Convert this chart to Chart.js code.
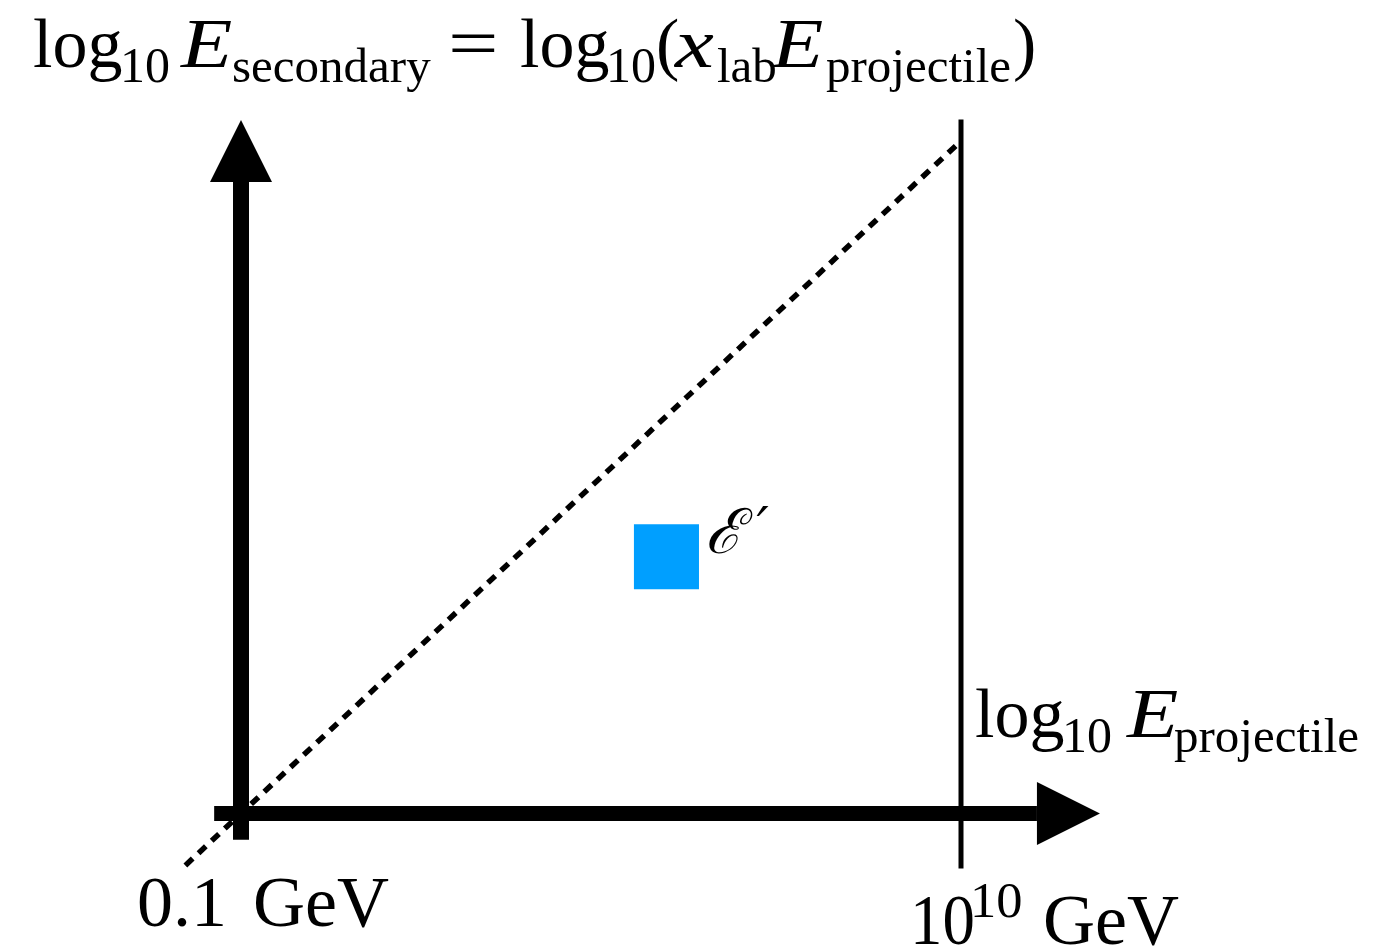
<!DOCTYPE html>
<html>
<head>
<meta charset="utf-8">
<title>Secondary vs projectile energy</title>
<script src="https://cdn.jsdelivr.net/npm/chart.js@4/dist/chart.umd.min.js"></script>
<style>
  html, body { margin: 0; padding: 0; background: #ffffff; }
  #wrap { width: 1397px; height: 946px; position: relative; }
</style>
</head>
<body>
<div id="wrap"><canvas id="c" width="1397" height="946"></canvas></div>
<script>
// Energies are in log10(E / GeV)
const energyBounds = [-1, 10];            // 0.1 GeV ... 10^10 GeV
const tickMantissa = ['0.1', '10'];
const tickExponent = ['', '10'];
const tickUnit = 'GeV';

// x_lab = 1 boundary: E_secondary = E_projectile
const diagonalX = [-1.85, 10];
const diagonalY = [-1.85, 10];

// upper limit of the projectile energy grid
const cutoffX = [10, 10];
const cutoffY = [-1.9, 10.35];

// axis shafts (arrowheads are added beyond the last point)
const xAxisX = [-1.41, 11.16];
const xAxisY = [-1, -1];
const yAxisX = [-1, -1];
const yAxisY = [-1.43, 9.33];

// one cell of the secondary-energy grid
const cellX = [5.5];
const cellY = [3.2];
const cellLabel = 'ℰ';
const cellPrime = '′';

const SERIF = '"Liberation Serif", "DejaVu Serif", serif';

function pts(xs, ys) { return xs.map((x, i) => ({ x: x, y: ys[i] })); }

// pieces: [text, size, italic, x offset, baseline offset, horizontal stretch]
function drawPieces(ctx, x0, y0, pieces) {
  ctx.textBaseline = 'alphabetic';
  ctx.textAlign = 'left';
  for (const [t, s, it, dx, dy, sx] of pieces) {
    ctx.font = (it ? 'italic ' : '') + s + 'px ' + SERIF;
    ctx.save();
    ctx.translate(x0 + dx, y0 + dy);
    ctx.scale(sx || 1, 1);
    ctx.fillText(t, 0, 0);
    ctx.restore();
  }
}

const overlay = {
  id: 'overlay',
  afterDatasetsDraw(chart) {
    const ctx = chart.ctx;
    const xs = chart.scales.x, ys = chart.scales.y;
    ctx.save();
    ctx.fillStyle = '#000';

    // arrowhead on the x axis
    const xb = xs.getPixelForValue(xAxisX[1]);
    const xy = ys.getPixelForValue(xAxisY[1]);
    ctx.beginPath();
    ctx.moveTo(xb, xy - 31.5);
    ctx.lineTo(xb + 63, xy);
    ctx.lineTo(xb, xy + 31.5);
    ctx.closePath();
    ctx.fill();

    // arrowhead on the y axis
    const yx = xs.getPixelForValue(yAxisX[1]);
    const yb = ys.getPixelForValue(yAxisY[1]);
    ctx.beginPath();
    ctx.moveTo(yx - 31, yb);
    ctx.lineTo(yx, yb - 62);
    ctx.lineTo(yx + 31, yb);
    ctx.closePath();
    ctx.fill();

    // vertical axis title
    drawPieces(ctx, 33, 67, [
      ['log', 70, false, 0, 0],
      ['10', 50, false, 87, 15],
      ['E', 70, true, 148, 0, 1.2],
      ['secondary', 49, false, 199, 15],
      ['=', 70, false, 415, 0, 1.28],
      ['log', 70, false, 487, 0],
      ['10', 50, false, 573, 15],
      ['(', 70, false, 623, 0],
      ['x', 70, true, 642, 0, 1.25],
      ['lab', 49, false, 684, 15],
      ['E', 70, true, 739, 0, 1.2],
      ['projectile', 49, false, 793, 15],
      [')', 70, false, 980, 0]
    ]);

    // horizontal axis title
    drawPieces(ctx, 975, 737, [
      ['log', 70, false, 0, 0],
      ['10', 50, false, 87, 15],
      ['E', 70, true, 152, 0, 1.2],
      ['projectile', 49, false, 199, 15]
    ]);

    // tick labels under the two marked energies
    const p0 = xs.getPixelForValue(energyBounds[0]);
    const p1 = xs.getPixelForValue(energyBounds[1]);
    drawPieces(ctx, p0, 926, [
      [tickMantissa[0], 72, false, -104, 0],
      [tickUnit, 72, false, 12, 0]
    ]);
    drawPieces(ctx, p1, 944, [
      [tickMantissa[1], 72, false, -51, 0, 0.9],
      [tickExponent[1], 50, false, 9, -27, 1.05],
      [tickUnit, 72, false, 82, 0]
    ]);

    // label of the grid cell
    const cx = xs.getPixelForValue(cellX[0]);
    const cy = ys.getPixelForValue(cellY[0]);
    ctx.font = 'italic 62px "DejaVu Serif", ' + SERIF;
    ctx.fillText(cellLabel, cx + 39, cy - 4);
    ctx.font = 'italic 54px "DejaVu Sans", ' + SERIF;
    ctx.fillText(cellPrime, cx + 90, cy - 12);

    ctx.restore();
  }
};

new Chart(document.getElementById('c'), {
  type: 'scatter',
  data: {
    datasets: [
      {
        data: pts(diagonalX, diagonalY), showLine: true,
        borderColor: '#000', borderWidth: 5.5, borderDash: [10, 8],
        borderCapStyle: 'butt', pointRadius: 0
      },
      {
        data: pts(cutoffX, cutoffY), showLine: true,
        borderColor: '#000', borderWidth: 5, pointRadius: 0
      },
      {
        data: pts(xAxisX, xAxisY), showLine: true,
        borderColor: '#000', borderWidth: 15, borderCapStyle: 'butt', pointRadius: 0
      },
      {
        data: pts(yAxisX, yAxisY), showLine: true,
        borderColor: '#000', borderWidth: 16, borderCapStyle: 'butt', pointRadius: 0
      },
      {
        data: pts(cellX, cellY), showLine: false,
        pointStyle: 'rect', pointRadius: 46, pointHoverRadius: 46,
        backgroundColor: '#009fff', borderWidth: 0
      }
    ]
  },
  options: {
    responsive: false,
    animation: false,
    events: [],
    layout: { padding: 0, autoPadding: false },
    plugins: { legend: { display: false }, tooltip: { enabled: false } },
    scales: {
      x: { type: 'linear', display: false, min: -4.682, max: 16.661 },
      y: { type: 'linear', display: false, min: -3.168, max: 12.306 }
    }
  },
  plugins: [overlay]
});
</script>
</body>
</html>
